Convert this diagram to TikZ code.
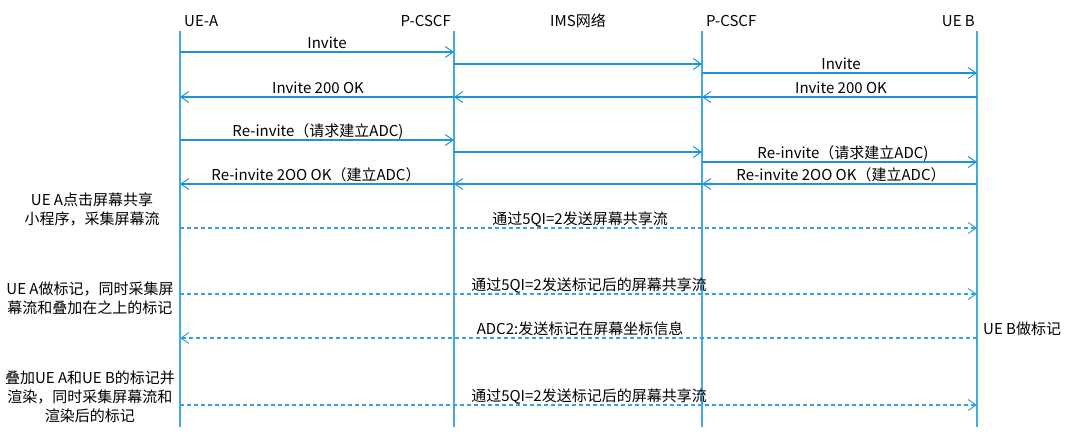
\documentclass[tikz,border=0pt]{standalone}
\usepackage{fontspec}
\setmainfont{Noto Sans CJK SC}
\usetikzlibrary{arrows.meta,calc}
\definecolor{lifec}{RGB}{70,168,228}
\definecolor{msgc}{RGB}{28,148,218}
\definecolor{dashc}{RGB}{56,160,226}
\begin{document}
\begin{tikzpicture}[x=1pt,y=-1pt,
  life/.style={draw=lifec,line width=1.3pt},
  msg/.style={draw=msgc,line width=1.2pt,-{Straight Barb[length=8pt,width=11pt,line width=1pt]}},
  dmsg/.style={msg,draw=dashc,dash pattern=on 4pt off 3pt},
  lbl/.style={font=\fontsize{15}{18}\selectfont,text=black,inner sep=0pt,anchor=base},
  hdr/.style={font=\fontsize{15}{18}\selectfont,text=black,inner sep=0pt},
  note/.style={font=\fontsize{15}{19}\selectfont,text=black,align=center,inner sep=0pt}]
\path[use as bounding box] (0,0) rectangle (1069,439);
\def\xA{180}\def\xP{454}\def\xQ{702}\def\xB{977}
% lifelines
\foreach \n/\x in {A/\xA,P/\xP,Q/\xQ,B/\xB}{
  \coordinate (\n top) at (\x,31);
  \coordinate (\n bot) at (\x,427);
  \draw[life] (\n top) -- (\n bot);
}
% headers
\node[hdr,anchor=base west] (hA) at (184,27) {UE-A};
\node[hdr,anchor=base east] (hP) at (451,27) {P-CSCF};
\node[hdr,anchor=base] (hI) at (578,27) {IMS网络};
\node[hdr,anchor=base west] (hQ) at (706,27) {P-CSCF};
\node[hdr,anchor=base east] (hB) at (975,27) {UE B};
% Invite
\coordinate (a1) at (\xA,52); \coordinate (p1) at (\xP,52);
\draw[msg] (a1) -- (p1);
\node[lbl] (l1) at (327,48) {Invite};
\coordinate (p2) at (\xP,64); \coordinate (q2) at (\xQ,64);
\draw[msg] (p2) -- (q2);
\coordinate (q3) at (\xQ,73); \coordinate (b3) at (\xB,73);
\draw[msg] (q3) -- (b3);
\node[lbl] (l3) at (841,69) {Invite};
% 200 OK
\coordinate (b4) at (\xB,97); \coordinate (q4) at (\xQ,97);
\coordinate (p4) at (\xP,97); \coordinate (a4) at (\xA,97);
\draw[msg] (b4) -- (q4);
\draw[msg] (q4) -- (p4);
\draw[msg] (p4) -- (a4);
\node[lbl] (l4) at (841,93) {Invite 200 OK};
\node[lbl] (l6) at (318,93) {Invite 200 OK};
% Re-invite
\coordinate (a7) at (\xA,140); \coordinate (p7) at (\xP,140);
\draw[msg] (a7) -- (p7);
\node[lbl] (l7) at (318,136) {Re-invite（请求建立ADC)};
\coordinate (p8) at (\xP,152); \coordinate (q8) at (\xQ,152);
\draw[msg] (p8) -- (q8);
\coordinate (q9) at (\xQ,162); \coordinate (b9) at (\xB,162);
\draw[msg] (q9) -- (b9);
\node[lbl] (l9) at (843,158) {Re-invite（请求建立ADC)};
% Re-invite 200 OK
\coordinate (b10) at (\xB,184); \coordinate (q10) at (\xQ,184);
\coordinate (p10) at (\xP,184); \coordinate (a10) at (\xA,184);
\draw[msg] (b10) -- (q10);
\draw[msg] (q10) -- (p10);
\draw[msg] (p10) -- (a10);
\node[lbl] (l10) at (841,180) {Re-invite 2OO OK（建立ADC）};
\node[lbl] (l12) at (316,180) {Re-invite 2OO OK（建立ADC）};
% notes
\node[note] (n1) at (92,209) {UE A点击屏幕共享\\小程序，采集屏幕流};
\node[note] (n2) at (90,298) {UE A做标记，同时采集屏\\幕流和叠加在之上的标记};
\node[note] (n3) at (90,397) {叠加UE A和UE B的标记并\\渲染，同时采集屏幕流和\\渲染后的标记};
\node[hdr,anchor=base west] (n4) at (983,334) {UE B做标记};
% dashed flows
\coordinate (a13) at (\xA,228); \coordinate (b13) at (\xB,228);
\draw[dmsg] (a13) -- (b13);
\node[lbl] (l13) at (580,224) {通过5QI=2发送屏幕共享流};
\coordinate (a14) at (\xA,294); \coordinate (b14) at (\xB,294);
\draw[dmsg] (a14) -- (b14);
\node[lbl] (l14) at (589,290) {通过5QI=2发送标记后的屏幕共享流};
\coordinate (b15) at (\xB,338); \coordinate (a15) at (\xA,338);
\draw[dmsg] (b15) -- (a15);
\node[lbl] (l15) at (580,334) {ADC2:发送标记在屏幕坐标信息};
\coordinate (a16) at (\xA,405); \coordinate (b16) at (\xB,405);
\draw[dmsg] (a16) -- (b16);
\node[lbl] (l16) at (589,401) {通过5QI=2发送标记后的屏幕共享流};
\end{tikzpicture}
\end{document}
